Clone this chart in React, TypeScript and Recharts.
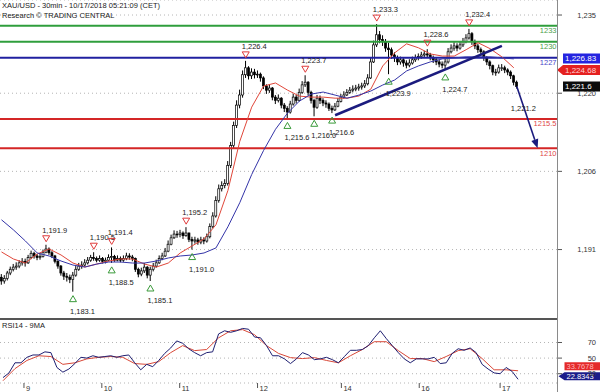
import React from 'react';
import { ComposedChart, Bar, Line, XAxis, YAxis, CartesianGrid, ReferenceLine, ReferenceDot } from 'recharts';

const FONT = "'Liberation Sans', Arial, sans-serif";

// ---------- hourly candles ----------
const firstOpen = 1185.8;
const closes = [
  1185.1, 1185.6, 1186.6, 1187.3, 1187.7, 1187.9, 1188.5, 1188.8, 1188.5, 1189.5,
  1190.3, 1189.8, 1189.5, 1189.7, 1190.5, 1191.1, 1190.4, 1189.8, 1188.8, 1187.9,
  1186.6, 1186.0, 1185.8, 1185.4, 1186.2, 1187.3, 1187.9, 1188.1, 1188.5, 1189.0,
  1189.5, 1189.3, 1189.0, 1189.3, 1188.8, 1189.0, 1189.5, 1189.7, 1189.0, 1189.3,
  1189.0, 1189.3, 1189.8, 1189.6, 1189.3, 1187.3, 1186.4, 1187.0, 1187.7, 1186.2,
  1187.3, 1187.9, 1188.5, 1189.3, 1189.8, 1190.7, 1192.0, 1193.2, 1193.9, 1193.8,
  1194.1, 1193.6, 1194.1, 1192.9, 1192.6, 1192.8, 1192.4, 1192.8, 1192.6, 1193.4,
  1195.3, 1197.3, 1200.2, 1202.4, 1203.0, 1203.4, 1206.8, 1210.5, 1214.3, 1218.1,
  1220.0, 1223.8, 1225.1, 1223.6, 1224.3, 1223.8, 1223.9, 1223.2, 1221.7, 1220.9,
  1221.3, 1219.6, 1219.0, 1219.4, 1218.1, 1217.5, 1216.8, 1218.3, 1219.6, 1219.0,
  1220.5, 1221.9, 1222.4, 1220.5, 1219.0, 1217.7, 1219.4, 1219.0, 1218.5, 1218.3,
  1217.5, 1217.2, 1217.9, 1218.8, 1219.6, 1220.0, 1220.5, 1220.9, 1221.1, 1221.3,
  1221.5, 1221.7, 1222.1, 1223.2, 1226.2, 1229.4, 1231.3, 1230.4, 1230.0, 1228.8,
  1228.5, 1227.5, 1227.0, 1226.2, 1226.6, 1226.0, 1225.6, 1226.0, 1226.6, 1227.0,
  1227.2, 1227.5, 1227.7, 1227.5, 1227.0, 1226.6, 1226.2, 1225.8, 1225.6, 1226.2,
  1228.1, 1228.8, 1229.2, 1228.8, 1229.4, 1230.0, 1230.7, 1231.5, 1230.0, 1229.2,
  1228.5, 1228.1, 1227.0, 1226.2, 1225.5, 1224.3, 1224.3, 1225.1, 1225.1, 1224.7,
  1224.3, 1223.6, 1222.4, 1221.6,
];
const highs = [
  1186.4, 1186.2, 1187.0, 1187.8, 1188.3, 1188.6, 1189.0, 1189.4, 1189.3, 1190.0,
  1190.8, 1190.6, 1190.2, 1190.3, 1191.0, 1191.9, 1191.4, 1190.7, 1190.0, 1189.0,
  1188.1, 1187.0, 1186.6, 1186.3, 1186.8, 1187.9, 1188.5, 1188.8, 1189.2, 1189.6,
  1190.0, 1190.5, 1189.7, 1189.9, 1189.6, 1189.5, 1190.1, 1191.4, 1190.0, 1189.9,
  1189.7, 1189.9, 1190.4, 1190.3, 1190.0, 1189.5, 1187.6, 1187.6, 1188.5, 1187.9,
  1187.8, 1188.5, 1189.1, 1189.9, 1190.4, 1191.3, 1192.7, 1193.8, 1194.6, 1194.5,
  1194.7, 1194.4, 1195.2, 1194.2, 1193.4, 1193.4, 1193.2, 1193.4, 1193.3, 1194.0,
  1195.9, 1198.0, 1201.0, 1203.2, 1203.8, 1204.2, 1207.6, 1211.2, 1215.0, 1219.0,
  1221.0, 1224.6, 1226.4, 1225.4, 1225.0, 1224.9, 1224.6, 1224.2, 1223.5, 1222.0,
  1222.0, 1221.5, 1220.0, 1220.1, 1219.6, 1218.5, 1217.9, 1218.9, 1220.2, 1220.0,
  1221.2, 1222.6, 1223.7, 1222.6, 1220.8, 1219.3, 1220.0, 1219.9, 1219.4, 1219.0,
  1218.6, 1218.0, 1218.5, 1219.4, 1220.2, 1220.7, 1221.1, 1221.5, 1221.8, 1221.9,
  1222.1, 1222.3, 1222.8, 1223.9, 1227.0, 1230.2, 1233.3, 1232.0, 1231.2, 1230.5,
  1229.8, 1228.9, 1228.0, 1227.4, 1227.2, 1226.9, 1226.5, 1226.7, 1227.2, 1227.6,
  1227.8, 1228.1, 1228.3, 1228.6, 1227.9, 1227.4, 1227.0, 1226.6, 1226.3, 1226.8,
  1228.8, 1229.5, 1229.9, 1229.7, 1230.1, 1230.7, 1231.4, 1232.4, 1231.8, 1230.4,
  1229.6, 1228.9, 1228.4, 1227.3, 1226.5, 1225.7, 1224.9, 1225.7, 1225.8, 1225.5,
  1225.0, 1224.6, 1223.8, 1222.7,
];
const lows = [
  1184.4, 1184.6, 1185.2, 1186.2, 1186.9, 1187.2, 1187.5, 1188.0, 1187.8, 1188.3,
  1189.2, 1189.3, 1189.0, 1189.1, 1189.5, 1190.3, 1190.0, 1189.4, 1188.4, 1187.4,
  1186.1, 1185.3, 1185.0, 1184.7, 1183.1, 1185.9, 1187.0, 1187.4, 1187.8, 1188.2,
  1188.7, 1188.9, 1188.6, 1188.7, 1188.4, 1188.4, 1188.8, 1188.5, 1188.7, 1188.8,
  1188.6, 1188.7, 1189.0, 1189.1, 1188.8, 1186.8, 1185.8, 1186.0, 1186.6, 1185.6,
  1185.1, 1186.9, 1187.6, 1188.3, 1189.0, 1189.6, 1190.5, 1191.8, 1193.0, 1193.2,
  1193.3, 1193.0, 1193.4, 1192.4, 1191.0, 1192.1, 1191.9, 1192.0, 1192.0, 1192.3,
  1193.1, 1195.0, 1197.0, 1199.8, 1201.9, 1202.5, 1203.0, 1206.3, 1210.0, 1213.8,
  1217.5, 1219.5, 1223.2, 1222.9, 1223.0, 1223.1, 1223.2, 1222.5, 1221.1, 1220.2,
  1220.4, 1219.0, 1218.3, 1218.6, 1217.5, 1216.8, 1215.6, 1216.5, 1218.0, 1218.4,
  1218.8, 1220.2, 1221.5, 1219.9, 1218.4, 1216.0, 1217.4, 1218.3, 1217.9, 1217.6,
  1217.0, 1216.6, 1217.0, 1217.7, 1218.6, 1219.3, 1219.8, 1220.2, 1220.5, 1220.7,
  1220.8, 1221.0, 1221.3, 1221.8, 1223.0, 1226.0, 1229.0, 1229.7, 1229.2, 1228.1,
  1223.9, 1226.8, 1226.2, 1225.6, 1225.7, 1225.3, 1225.0, 1225.2, 1225.7, 1226.2,
  1226.5, 1226.8, 1227.0, 1227.0, 1226.5, 1226.0, 1225.6, 1225.2, 1225.0, 1224.7,
  1225.9, 1227.8, 1228.3, 1228.2, 1228.5, 1229.0, 1229.7, 1230.4, 1229.4, 1228.6,
  1227.9, 1227.4, 1226.4, 1225.6, 1224.8, 1223.7, 1223.6, 1224.0, 1224.5, 1224.1,
  1223.7, 1223.0, 1221.8, 1221.2,
];

// moving averages, one reading every 4th candle (from candle 0)
const maRed = [
  1190.55, 1189.23, 1188.47, 1190.17, 1191.11, 1189.98, 1188.47, 1187.72, 1188.28, 1188.85,
  1189.23, 1189.23, 1188.28, 1187.72, 1188.47, 1190.36, 1191.68, 1193.0, 1195.64, 1202.06,
  1211.3, 1217.72, 1221.68, 1222.25, 1220.92, 1219.79, 1219.6, 1219.6, 1219.4, 1219.4,
  1219.8, 1221.1, 1225.45, 1227.9, 1229.6, 1228.85, 1227.7, 1227.3, 1227.3, 1228.5,
  1229.8, 1228.7, 1227.15, 1225.1,
];
const maBlue = [
  1196.58, 1194.7, 1192.62, 1190.36, 1189.79, 1188.85, 1188.09, 1187.72, 1188.28, 1188.66,
  1188.66, 1188.47, 1188.47, 1188.85, 1189.42, 1189.79, 1189.98, 1190.36, 1191.3, 1195.26,
  1199.79, 1205.08, 1209.6, 1213.57, 1216.58, 1218.85, 1220.17, 1220.55, 1219.98, 1219.4,
  1219.98, 1220.74, 1221.87, 1222.81, 1224.51, 1225.45, 1226.21, 1226.77, 1226.96, 1227.15,
  1227.15, 1227.15, 1226.96, 1226.77,
];

// RSI14, one reading every 2nd candle (from candle 1)
const rsiVals = [
  25, 31, 44, 44, 51, 54, 54, 58, 57, 38,
  32, 36, 43, 51, 50, 53, 51, 52, 53, 51,
  53, 54, 44, 35, 42, 39, 47, 56, 63, 72,
  69, 62, 57, 53, 57, 58, 81, 85, 83, 85,
  88, 87, 77, 76, 66, 53, 53, 49, 43, 49,
  57, 54, 48, 49, 51, 48, 44, 52, 60, 60,
  61, 66, 76, 85, 75, 66, 57, 49, 44, 49,
  49, 49, 51, 43, 44, 56, 62, 60, 63, 57,
  42, 36, 31, 30, 38, 33, 22.83,
];
// 9MA of RSI, one reading every 4th candle (from candle 1)
const rsiMaVals = [
  21, 36.5, 47, 53, 52, 42, 44, 49, 51, 52,
  51, 43, 42, 45.5, 57, 66, 59.6, 61, 76, 85,
  86.5, 80, 66, 56, 50.6, 49.4, 50.6, 47, 44, 53,
  61, 71, 71, 59.6, 49.4, 49.4, 45.5, 52, 59.6, 62,
  49.4, 35, 35, 33.8,
];

const TOTAL_SLOTS = 187;
const dayTicks = [8, 34, 60, 86, 114, 140, 167];
const dayLabels = ['9', '10', '11', '12', '14', '16', '17'];
const priceTicks = [1191, 1205.67, 1220.33, 1235];
const priceTickLabels = ['1,191', '1,206', '1,220', '1,235'];
const rsiTicks = [30, 50, 70];
const rsiTickLabels = ['30', '50', '70'];

const levels = [1233, 1230, 1227, 1215.5, 1210];
const levelLabels = ['1233', '1230', '1227', '1215.5', '1210'];
const levelColors = ['#2f9e3c', '#2f9e3c', '#2020a0', '#d42626', '#d42626'];
const levelTextColors = ['#4aa04a', '#4aa04a', '#4848c8', '#e04848', '#e04848'];

const hiMarkK = [15, 31, 37, 62, 82, 102, 126, 143, 157];
const hiMarkV = [1191.9, 1190.5, 1191.4, 1195.2, 1226.4, 1223.7, 1233.3, 1228.6, 1232.4];
const hiMarkLabels = ['1,191.9', '1,190.5', '1,191.4', '1,195.2', '1,226.4', '1,223.7', '1,233.3', '1,228.6', '1,232.4'];
const loMarkK = [24, 37, 50, 64, 96, 105, 111, 130, 149];
const loMarkV = [1183.1, 1188.5, 1185.1, 1191.0, 1215.6, 1216.0, 1216.6, 1223.9, 1224.7];
const loMarkLabels = ['1,183.1', '1,188.5', '1,185.1', '1,191.0', '1,215.6', '1,216.0', '1,216.6', '1,223.9', '1,224.7'];
const pivotK = 172;
const pivotV = 1221.2;
const pivotLabel = '1,221.2';

const trendStart = { k: 112, v: 1216.2 };
const trendEnd = { k: 168, v: 1229.2 };
const arrowStart = { k: 173, v: 1221.6 };
const arrowEnd = { k: 180, v: 1210 };

const tagValues = [1226.83, 1224.68, 1221.6];
const tagLabels = ['1,226.83', '1,224.68', '1,221.6'];
const rsiTagValues = [33.7678, 22.8343];
const rsiTagLabels = ['33.7678', '22.8343'];

const NAVY = '#1b1b7e';

const rows = Array.from({ length: TOTAL_SLOTS }, (_, k) => {
  const has = k < closes.length;
  return {
    k,
    hl: has ? [lows[k], highs[k]] : undefined,
    o: has ? (k === 0 ? firstOpen : closes[k - 1]) : undefined,
    c: has ? closes[k] : undefined,
    h: has ? highs[k] : undefined,
    l: has ? lows[k] : undefined,
    maR: k % 4 === 0 && k / 4 < maRed.length ? maRed[k / 4] : undefined,
    maB: k % 4 === 0 && k / 4 < maBlue.length ? maBlue[k / 4] : undefined,
    rsi: k % 2 === 1 && (k - 1) / 2 < rsiVals.length ? rsiVals[(k - 1) / 2] : undefined,
    rsiMa: k % 4 === 1 && (k - 1) / 4 < rsiMaVals.length ? rsiMaVals[(k - 1) / 4] : undefined,
  };
});

const Candle = (props: any) => {
  const { x, y, width, height, payload } = props;
  if (!payload || payload.h == null || !isFinite(y) || !isFinite(height)) return null;
  const { o, c, h, l } = payload;
  const top = Math.min(y, y + height);
  const hgt = Math.abs(height);
  const cx = x + width / 2;
  const range = h - l || 1;
  const py = (v: number) => top + ((h - v) / range) * hgt;
  const bTop = py(Math.max(o, c));
  const bBot = py(Math.min(o, c));
  const up = c >= o;
  return (
    <g>
      <line x1={cx} x2={cx} y1={top} y2={top + hgt} stroke="#000" strokeWidth={1} />
      <rect x={cx - 1} y={bTop} width={2} height={Math.max(bBot - bTop, 0.8)} fill={up ? '#fff' : '#000'} stroke="#000" strokeWidth={0.7} />
    </g>
  );
};

const PriceTick = (props: any) => {
  const { x, y, payload, labels, ticks } = props;
  const i = ticks.indexOf(payload.value);
  return (
    <g>
      <line x1={x + 1} x2={x + 5} y1={y} y2={y} stroke="#555" strokeWidth={1} />
      <text x={x + 39} y={y + 2.7} textAnchor="end" fontSize={7.5} fontFamily={FONT} fill="#333">{labels[i]}</text>
    </g>
  );
};

const DayTick = (props: any) => {
  const { x, y, payload } = props;
  const i = dayTicks.indexOf(payload.value);
  return (
    <g>
      <line x1={x} x2={x} y1={y} y2={y + 5} stroke="#555" strokeWidth={1} />
      <text x={x + 2} y={y + 7.5} fontSize={7.5} fontFamily={FONT} fill="#333">{dayLabels[i]}</text>
    </g>
  );
};

const ArrowShape = (p: any) => {
  const { x1, y1, x2, y2 } = p;
  const ang = Math.atan2(y2 - y1, x2 - x1);
  const L = 9, W = 3.6;
  const bx = x2 - L * Math.cos(ang), by = y2 - L * Math.sin(ang);
  const px = -Math.sin(ang) * W, py = Math.cos(ang) * W;
  return (
    <g>
      <line x1={x1} y1={y1} x2={bx} y2={by} stroke={NAVY} strokeWidth={1.6} />
      <polygon points={`${x2},${y2} ${bx + px},${by + py} ${bx - px},${by - py}`} fill={NAVY} />
    </g>
  );
};

const hiShape = (label: string) => (p: any) => {
  const { cx, cy } = p;
  const t = cy - 6;
  return (
    <g>
      <polygon points={`${cx - 3.5},${t - 3} ${cx + 3.5},${t - 3} ${cx},${t + 3}`} fill="none" stroke="#e03a3a" strokeWidth={1} />
      <text x={cx - 4} y={cy - 12} fontSize={7.5} fontFamily={FONT} fill="#222">{label}</text>
    </g>
  );
};

const loShape = (label: string, tri = true) => (p: any) => {
  const { cx, cy } = p;
  const t = cy + 7;
  return (
    <g>
      {tri && <polygon points={`${cx - 3.5},${t + 3} ${cx + 3.5},${t + 3} ${cx},${t - 3}`} fill="none" stroke="#3a9a3a" strokeWidth={1} />}
      <text x={cx - 3} y={cy + 22} fontSize={7.5} fontFamily={FONT} fill="#222">{label}</text>
    </g>
  );
};

const levelLabelShape = (label: string, color: string) => (p: any) => (
  <text x={p.cx + 1} y={p.cy + 7.5} textAnchor="end" fontSize={7.5} fontFamily={FONT} fill={color}>{label}</text>
);

const tagShape = (label: string, bg: string, fg: string, arrow: boolean, dy = 0, h = 10, fs = 8) => (p: any) => {
  const left = p.cx + 1.5;
  const cy = p.cy + dy;
  const boxL = left + 6;
  const right = left + 43;
  const pts = arrow
    ? `${left},${cy} ${boxL},${cy - h / 2} ${right},${cy - h / 2} ${right},${cy + h / 2} ${boxL},${cy + h / 2}`
    : `${boxL},${cy - h / 2} ${right},${cy - h / 2} ${right},${cy + h / 2} ${boxL},${cy + h / 2}`;
  return (
    <g>
      <polygon points={pts} fill={bg} />
      <text x={boxL + 2} y={cy + fs * 0.35} fontSize={fs} fontFamily={FONT} fill={fg}>{label}</text>
    </g>
  );
};

const tagStyles = [
  { bg: '#2424e0', fg: '#ffffff', arrow: false },
  { bg: '#e42020', fg: '#ffd0d0', arrow: true },
  { bg: '#0c0c0c', fg: '#ffffff', arrow: false },
];
const rsiTagStyles = [
  { bg: '#e42a2a', fg: '#ffb8b8', arrow: false, dy: -4.5 },
  { bg: '#1c1c8a', fg: '#ffffff', arrow: true, dy: -3 },
];

const textStyle: React.CSSProperties = {
  position: 'absolute', left: 2, fontSize: 7.5, fontFamily: FONT, color: '#222', lineHeight: '9px', whiteSpace: 'nowrap',
};

export default function App() {
  const lastK = TOTAL_SLOTS - 1;
  return (
    <div style={{ position: 'absolute', left: 0, top: 0, width: 600, height: 392, background: '#fff', overflow: 'hidden' }}>
      <div style={{ position: 'absolute', left: 0, top: 0 }}>
        <ComposedChart width={600} height={319} data={rows} margin={{ top: 0, right: 0, bottom: 0, left: 0 }}>
          <CartesianGrid vertical={false} stroke="#b5b5b5" strokeDasharray="1 3" />
          <XAxis dataKey="k" type="category" hide />
          <YAxis
            orientation="right" width={43} domain={[1177.97, 1237.82]} ticks={priceTicks} interval={0}
            allowDataOverflow axisLine={false} tickLine={false} tickSize={0} tickMargin={0}
            tick={(p: any) => <PriceTick {...p} labels={priceTickLabels} ticks={priceTicks} />}
          />
          {levels.map((v, i) => (
            <ReferenceLine key={'lv' + i} y={v} stroke={levelColors[i]} strokeWidth={2} />
          ))}
          <Bar dataKey="hl" shape={Candle} isAnimationActive={false} />
          <Line dataKey="maR" stroke="#e0473a" strokeWidth={1} dot={false} activeDot={false} connectNulls isAnimationActive={false} />
          <Line dataKey="maB" stroke="#3434a8" strokeWidth={1} dot={false} activeDot={false} connectNulls isAnimationActive={false} />
          <ReferenceLine
            segment={[{ x: trendStart.k, y: trendStart.v }, { x: trendEnd.k, y: trendEnd.v }]}
            stroke={NAVY} strokeWidth={2.5} ifOverflow="visible"
          />
          <ReferenceLine
            segment={[{ x: arrowStart.k, y: arrowStart.v }, { x: arrowEnd.k, y: arrowEnd.v }]}
            shape={ArrowShape} ifOverflow="visible"
          />
          {hiMarkK.map((k, i) => (
            <ReferenceDot key={'hi' + i} x={k} y={hiMarkV[i]} ifOverflow="visible" shape={hiShape(hiMarkLabels[i])} />
          ))}
          {loMarkK.map((k, i) => (
            <ReferenceDot key={'lo' + i} x={k} y={loMarkV[i]} ifOverflow="visible" shape={loShape(loMarkLabels[i])} />
          ))}
          <ReferenceDot x={pivotK} y={pivotV} ifOverflow="visible" shape={loShape(pivotLabel, false)} />
          {levels.map((v, i) => (
            <ReferenceDot key={'ll' + i} x={lastK} y={v} ifOverflow="visible" shape={levelLabelShape(levelLabels[i], levelTextColors[i])} />
          ))}
          {tagValues.map((v, i) => (
            <ReferenceDot key={'tg' + i} x={lastK} y={v} ifOverflow="visible"
              shape={tagShape(tagLabels[i], tagStyles[i].bg, tagStyles[i].fg, tagStyles[i].arrow)} />
          ))}
        </ComposedChart>
      </div>
      <div style={{ position: 'absolute', left: 0, top: 319 }}>
        <ComposedChart width={600} height={73} data={rows} margin={{ top: 0, right: 0, bottom: 0, left: 0 }}>
          <CartesianGrid vertical={false} stroke="#b5b5b5" strokeDasharray="1 3" />
          <XAxis
            dataKey="k" type="category" ticks={dayTicks} interval={0} height={9}
            axisLine={false} tickLine={false} tickSize={0} tickMargin={0} tick={DayTick}
          />
          <YAxis
            orientation="right" width={43} domain={[18.1, 100.1]} ticks={rsiTicks} interval={0}
            allowDataOverflow axisLine={false} tickLine={false} tickSize={0} tickMargin={0}
            tick={(p: any) => <PriceTick {...p} labels={rsiTickLabels} ticks={rsiTicks} />}
          />
          <Line dataKey="rsiMa" stroke="#d84838" strokeWidth={1} dot={false} activeDot={false} connectNulls isAnimationActive={false} />
          <Line dataKey="rsi" stroke="#1e1e70" strokeWidth={1} dot={false} activeDot={false} connectNulls isAnimationActive={false} />
          {rsiTagValues.map((v, i) => (
            <ReferenceDot key={'rt' + i} x={lastK} y={v} ifOverflow="visible"
              shape={tagShape(rsiTagLabels[i], rsiTagStyles[i].bg, rsiTagStyles[i].fg, rsiTagStyles[i].arrow, rsiTagStyles[i].dy, 8, 7.5)} />
          ))}
        </ComposedChart>
      </div>
      <div style={{ position: 'absolute', left: 557, top: 0, width: 1, height: 392, background: '#8a8a8a' }} />
      <div style={{ position: 'absolute', left: 0, top: 318, width: 557, height: 2, background: '#555' }} />
      <div style={{ ...textStyle, top: 1 }}>XAU/USD - 30min - 10/17/2018 05:21:09 (CET)</div>
      <div style={{ ...textStyle, top: 11 }}>Research © TRADING CENTRAL</div>
      <div style={{ ...textStyle, top: 321 }}>RSI14 - 9MA</div>
    </div>
  );
}
